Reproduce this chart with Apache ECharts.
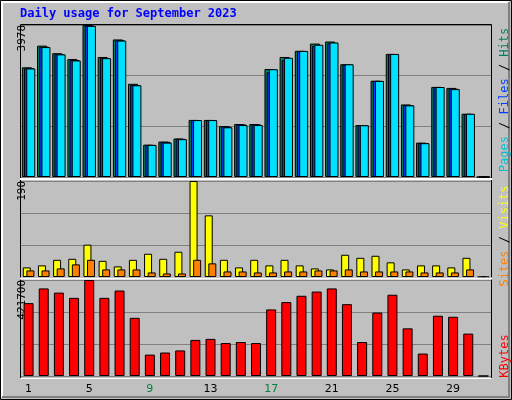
<!DOCTYPE html>
<html><head><meta charset="utf-8">
<script src="https://cdn.jsdelivr.net/npm/echarts@6/dist/echarts.min.js"></script>
<style>html,body{margin:0;padding:0;background:#c0c0c0}#c{width:512px;height:400px}</style>
</head><body><div id="c"></div>
<script>
const days = Array.from({length:31},(_,i)=>String(i+1));
const weekend = [2,3,9,10,16,17,23,24,30,31];
const hits  = [2871,3438,3240,3087,3978,3141,3600,2439,846,927,1008,1494,1494,1332,1386,1386,2826,3141,3303,3492,3546,2952,1359,2520,3222,1899,900,2358,2331,1656,0];
const files = [2845,3410,3215,3060,3960,3115,3575,2410,840,920,1000,1490,1490,1320,1375,1375,2740,3060,3290,3430,3500,2940,1355,2515,3215,1880,890,2350,2310,1650,0];
const pages = [2840,3400,3210,3050,3955,3110,3570,2400,840,900,990,1490,1490,1300,1360,1360,2820,3120,3300,3460,3520,2950,1355,2515,3220,1875,885,2355,2300,1655,0];
const visits = [19,23,34,36,64,32,21,34,46,36,50,190,122,34,19,34,23,34,23,17,15,44,38,42,29,15,23,23,19,38,0];
const sites  = [13,13,17,25,34,15,15,15,9,7,7,34,27,11,11,9,9,11,11,13,13,15,11,11,11,11,9,9,9,15,0];
const kbytes = [320100,384750,366300,343200,421700,343200,375500,255500,93900,103100,112300,158500,163100,144700,149300,144700,292400,324700,352400,370900,384750,315500,149300,278600,357000,209300,98500,264700,260100,186200,0];
const maxHits = 3978, maxVisits = 190, maxKB = 421700;

const chart = echarts.init(document.getElementById('c'));
const grids = [
  {left:21,width:470,top:25,height:152},
  {left:21,width:470,top:181,height:96},
  {left:21,width:470,top:280,height:96}
];
function xAx(i,show){return {type:'category',gridIndex:i,data:days,boundaryGap:true,
  axisLine:{show:false},axisTick:{show:false},
  axisLabel:{show:show,margin:8,fontFamily:'DejaVu Sans',fontSize:11,
    formatter:v=>weekend.includes(+v)?'{w|'+v+'}':'{n|'+v+'}',
    rich:{w:{color:'#008040',fontFamily:'DejaVu Sans',fontSize:11},n:{color:'#000',fontFamily:'DejaVu Sans',fontSize:11}}}};}
function yAx(i,max){return {type:'value',gridIndex:i,min:0,max:max,interval:max/3,
  axisLine:{show:false},axisTick:{show:false},
  splitLine:{lineStyle:{color:'#808080',width:1}},
  axisLabel:{rotate:90,margin:4,fontFamily:'DejaVu Sans Mono',fontSize:11,color:'#000',
    verticalAlign:'top',align:'right',
    formatter:v=>v>=max-0.5?String(max):''}};}
const bs={borderColor:'#000',borderWidth:1};
chart.setOption({
  animation:false,
  backgroundColor:'#c0c0c0',
  grid:grids,
  xAxis:[xAx(0,false),xAx(1,false),xAx(2,true)],
  yAxis:[yAx(0,maxHits),yAx(1,maxVisits),yAx(2,maxKB)],
  series:[
    {type:'bar',xAxisIndex:0,yAxisIndex:0,data:hits,barWidth:10,barGap:'-78%',itemStyle:Object.assign({color:'#00805c'},bs)},
    {type:'bar',xAxisIndex:0,yAxisIndex:0,data:files,barWidth:10,barGap:'-78%',itemStyle:Object.assign({color:'#0040ff'},bs)},
    {type:'bar',xAxisIndex:0,yAxisIndex:0,data:pages,barWidth:9,barGap:'-78%',itemStyle:Object.assign({color:'#00e0ff'},bs)},
    {type:'bar',xAxisIndex:1,yAxisIndex:1,data:visits,barWidth:8,barGap:'-55%',itemStyle:Object.assign({color:'#ffff00'},bs)},
    {type:'bar',xAxisIndex:1,yAxisIndex:1,data:sites,barWidth:8,barGap:'-55%',itemStyle:Object.assign({color:'#ff8000'},bs)},
    {type:'bar',xAxisIndex:2,yAxisIndex:2,data:kbytes,barWidth:10,itemStyle:Object.assign({color:'#ff0000'},bs)}
  ],
  graphic:[
    {type:'rect',shape:{x:0.5,y:0.5,width:511,height:399},style:{fill:'none',stroke:'#000',lineWidth:1},z:-1},
    {type:'polyline',shape:{points:[[2,397],[2,2],[509,2]]},style:{stroke:'#fff',lineWidth:2,fill:'none'},z:-1},
    {type:'polyline',shape:{points:[[2,397],[509,397],[509,2]]},style:{stroke:'#808080',lineWidth:2,fill:'none'},z:-1},
    {type:'polyline',shape:{points:[[20.5,378],[20.5,24.5],[491.5,24.5],[491.5,378]]},style:{stroke:'#000',lineWidth:1,fill:'none'},z:10},
    {type:'polyline',shape:{points:[[20.5,378.5],[491.5,378.5]]},style:{stroke:'#fff',lineWidth:1},z:10},
    {type:'line',shape:{x1:20,y1:179,x2:492,y2:179},style:{stroke:'#fff',lineWidth:2},z:10},
    {type:'line',shape:{x1:20,y1:278.5,x2:492,y2:278.5},style:{stroke:'#fff',lineWidth:2},z:10},
    {type:'text',left:20,top:8,style:{text:'Daily usage for September 2023',fill:'#0000ff',font:'bold 12px "DejaVu Sans Mono"'}},
    {type:'text',x:505,y:100,rotation:Math.PI/2,style:{
      text:'{p|Pages} / {f|Files} / {h|Hits}',align:'center',verticalAlign:'middle',font:'12px "DejaVu Sans Mono"',fill:'#000',
      rich:{p:{fill:'#00c0d0',font:'12px "DejaVu Sans Mono"'},f:{fill:'#0040ff',font:'12px "DejaVu Sans Mono"'},h:{fill:'#008060',font:'12px "DejaVu Sans Mono"'}}}},
    {type:'text',x:505,y:236,rotation:Math.PI/2,style:{
      text:'{s|Sites} / {v|Visits}',align:'center',verticalAlign:'middle',font:'12px "DejaVu Sans Mono"',fill:'#000',
      rich:{s:{fill:'#ff8000',font:'12px "DejaVu Sans Mono"'},v:{fill:'#ffff00',font:'12px "DejaVu Sans Mono"'}}}},
    {type:'text',x:505,y:356,rotation:Math.PI/2,style:{text:'KBytes',align:'center',verticalAlign:'middle',fill:'#ff0000',font:'12px "DejaVu Sans Mono"'}}
  ]
});
</script></body></html>
